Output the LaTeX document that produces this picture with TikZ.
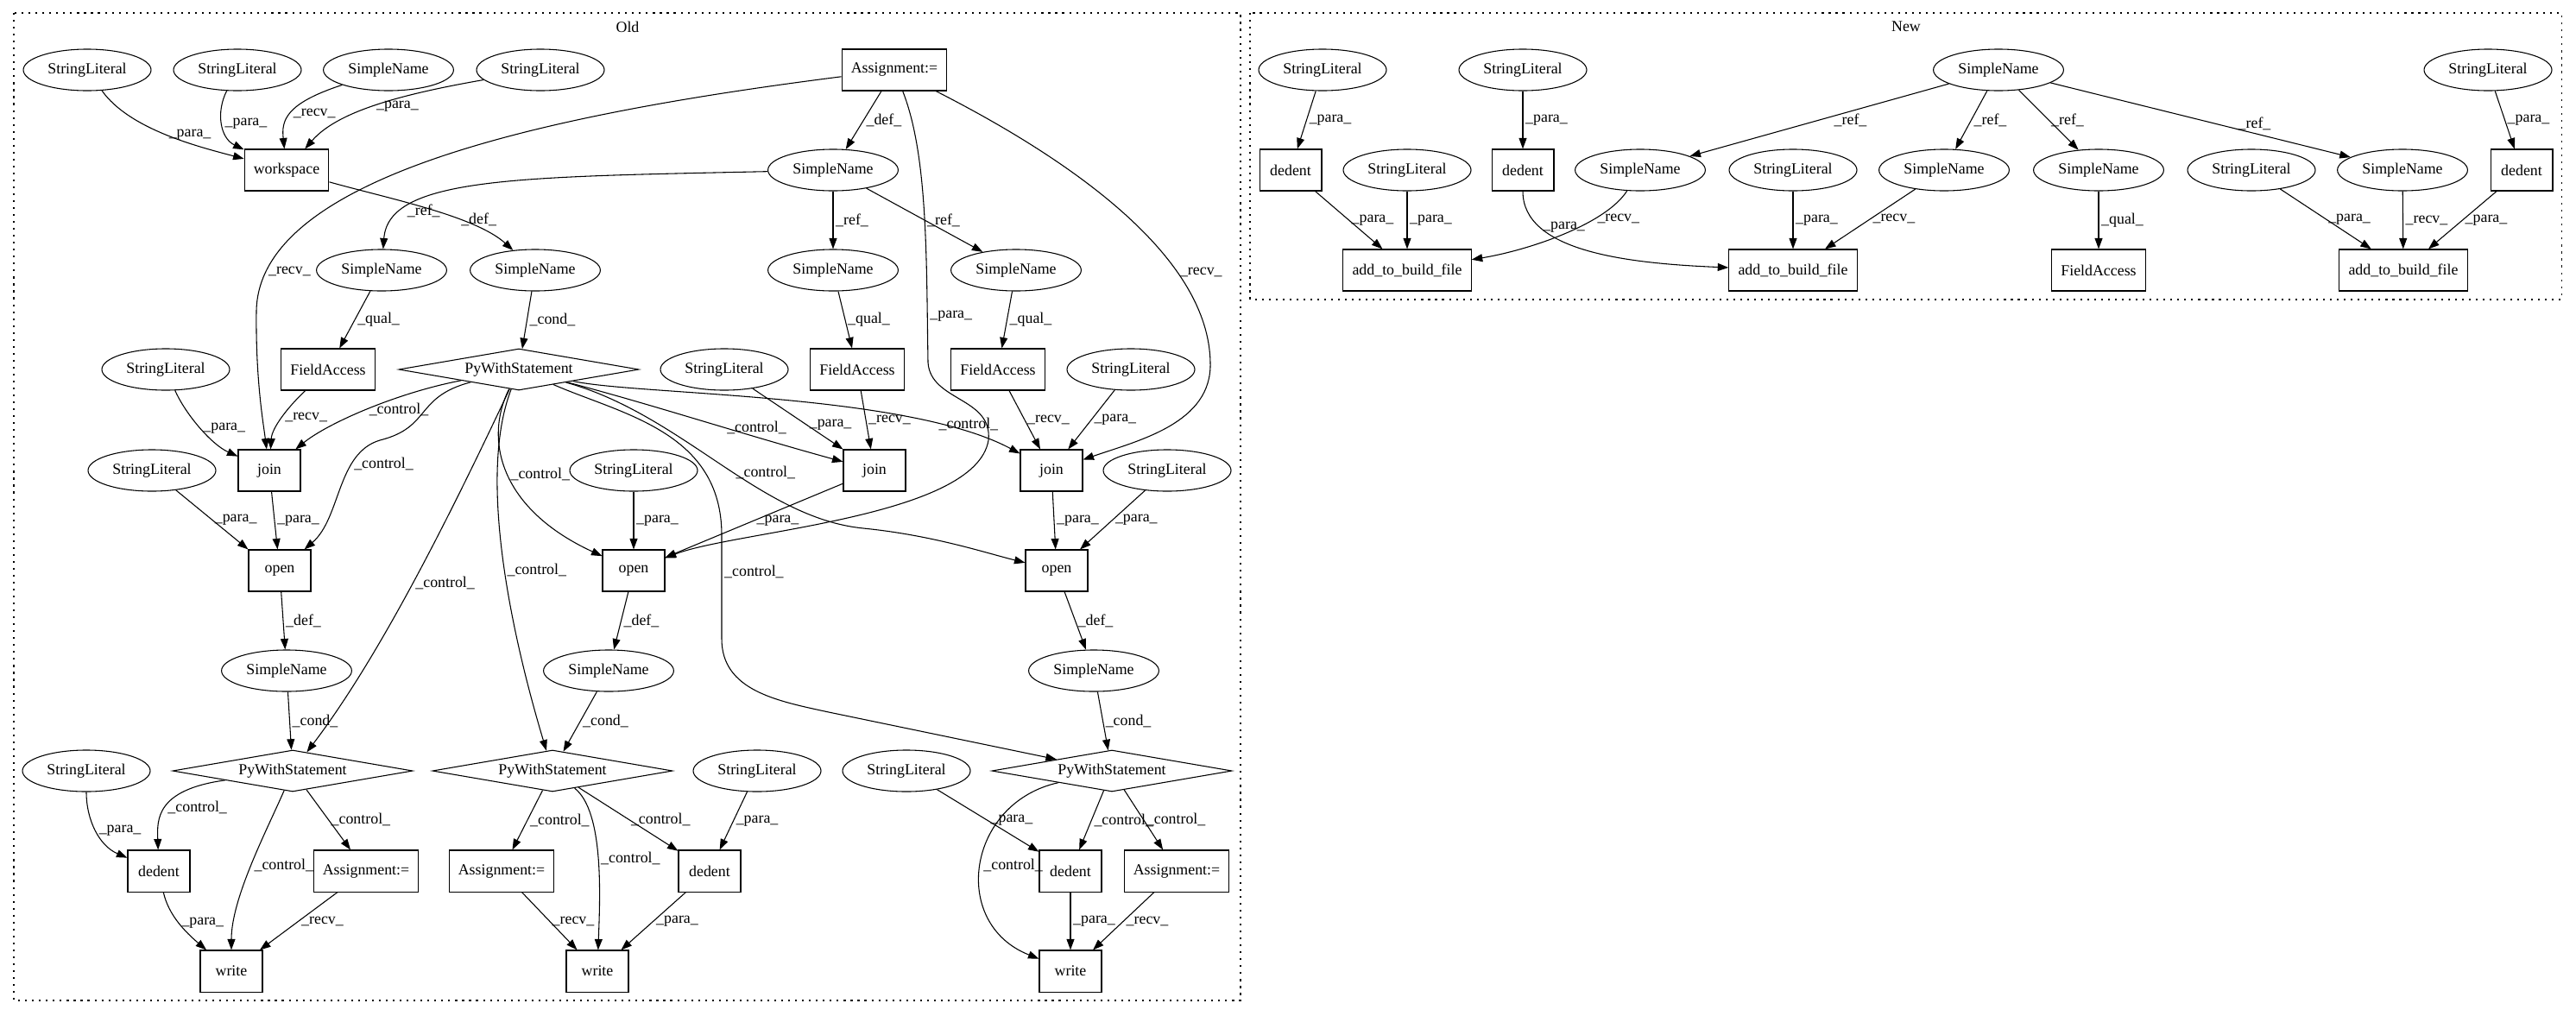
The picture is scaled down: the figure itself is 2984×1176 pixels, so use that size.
\documentclass[tikz,border=0pt]{standalone}
\usepackage{fontspec}
\setmainfont{Liberation Serif}
\usetikzlibrary{arrows.meta}
\usetikzlibrary{shapes}

\begin{document}
\begin{tikzpicture}[x=0.56pt, y=-0.56pt]
	\tikzstyle{txt}=[font=\fontsize{10}{12}\selectfont]
	\tikzstyle{ell}=[txt, shape=ellipse, draw, line width=0.6pt, minimum height=26.9pt, inner xsep=3.75pt, inner ysep=1pt]
	\tikzstyle{rbox}=[txt, shape=rectangle, draw, line width=0.6pt, minimum width=40.3pt, minimum height=26.9pt, inner xsep=6pt]
	\tikzstyle{dia}=[txt, shape=diamond, draw, line width=0.6pt, aspect=5.8, inner sep=0.5pt, minimum width=155.7pt, minimum height=26.9pt]
	\tikzstyle{lbl}=[txt, right, inner sep=1.5pt]
	\tikzstyle{link}=[-{Triangle[length=7pt,width=5pt]}, line width=0.6pt]
	\tikzstyle{clus}=[line width=0.6pt, dash pattern=on 1.2pt off 3.3pt]
	\useasboundingbox (0,0) rectangle (2984,1176);
	\draw[clus] (16,15) rectangle (1437,1159);
	\draw[clus] (1448,15) rectangle (2967,347);
	\node[txt] (told) at (727,31) {Old};
	\node[txt] (tnew) at (2208,31) {New};
	\node[ell] (sl1) at (101,81) {StringLiteral};
	\node[ell] (sl2) at (275,81) {StringLiteral};
	\node[ell] (sn0) at (450,81) {SimpleName};
	\node[ell] (sl3) at (626,81) {StringLiteral};
	\node[rbox] (asg) at (1036,81) {Assignment:=};
	\node[rbox] (ws) at (332,197) {workspace};
	\node[ell] (sndef) at (965,197) {SimpleName};
	\node[ell] (snr1) at (442,313) {SimpleName};
	\node[ell] (snw) at (620,313) {SimpleName};
	\node[ell] (snr2) at (965,313) {SimpleName};
	\node[ell] (snr3) at (1177,313) {SimpleName};
	\node[ell] (sl4) at (192,428) {StringLiteral};
	\node[rbox] (fa1) at (380,428) {FieldAccess};
	\node[dia] (pw0) at (601,428) {PyWithStatement};
	\node[ell] (sl5) at (839,428) {StringLiteral};
	\node[rbox] (fa2) at (993,428) {FieldAccess};
	\node[rbox] (fa3) at (1156,428) {FieldAccess};
	\node[ell] (sl6) at (1310,428) {StringLiteral};
	\node[ell] (sl7) at (176,545) {StringLiteral};
	\node[rbox] (join1) at (312,545) {join};
	\node[ell] (sl8) at (734,545) {StringLiteral};
	\node[rbox] (join2) at (1013,545) {join};
	\node[rbox] (join3) at (1218,545) {join};
	\node[ell] (sl9) at (1352,545) {StringLiteral};
	\node[rbox] (open1) at (324,661) {open};
	\node[rbox] (open2) at (734,661) {open};
	\node[rbox] (open3) at (1224,661) {open};
	\node[ell] (sno1) at (332,777) {SimpleName};
	\node[ell] (sno2) at (705,777) {SimpleName};
	\node[ell] (sno3) at (1267,777) {SimpleName};
	\node[ell] (sl10) at (100,893) {StringLiteral};
	\node[dia] (pw1) at (339,893) {PyWithStatement};
	\node[dia] (pw2) at (640,893) {PyWithStatement};
	\node[ell] (sl11) at (877,893) {StringLiteral};
	\node[ell] (sl12) at (1050,893) {StringLiteral};
	\node[dia] (pw3) at (1288,893) {PyWithStatement};
	\node[rbox] (ded1) at (184,1009) {dedent};
	\node[rbox] (asg1) at (424,1009) {Assignment:=};
	\node[rbox] (asg2) at (581,1009) {Assignment:=};
	\node[rbox] (ded2) at (822,1009) {dedent};
	\node[rbox] (ded3) at (1240,1009) {dedent};
	\node[rbox] (asg3) at (1363,1009) {Assignment:=};
	\node[rbox] (wr1) at (268,1125) {write};
	\node[rbox] (wr2) at (692,1125) {write};
	\node[rbox] (wr3) at (1240,1125) {write};
	\node[ell] (nsl1) at (1532,81) {StringLiteral};
	\node[ell] (nsl2) at (1764,81) {StringLiteral};
	\node[ell] (nsn0) at (2315,81) {SimpleName};
	\node[ell] (nsl3) at (2882,81) {StringLiteral};
	\node[rbox] (nded1) at (1495,197) {dedent};
	\node[ell] (nsl4) at (1630,197) {StringLiteral};
	\node[rbox] (nded2) at (1764,197) {dedent};
	\node[ell] (nsn1) at (1900,197) {SimpleName};
	\node[ell] (nsl5) at (2077,197) {StringLiteral};
	\node[ell] (nsn2) at (2252,197) {SimpleName};
	\node[ell] (nsn3) at (2431,197) {SimpleName};
	\node[ell] (nsl6) at (2608,197) {StringLiteral};
	\node[ell] (nsn4) at (2783,197) {SimpleName};
	\node[rbox] (nded3) at (2921,197) {dedent};
	\node[rbox] (add1) at (1630,313) {add\_to\_build\_file};
	\node[rbox] (add2) at (2077,313) {add\_to\_build\_file};
	\node[rbox] (nfa) at (2431,313) {FieldAccess};
	\node[rbox] (add3) at (2784,313) {add\_to\_build\_file};
	\draw[link] (sl1) .. controls (150,150) and (230,170) .. node[lbl]{\_para\_} (ws);
	\draw[link] (sl2) .. controls (250,130) and (255,160) .. node[lbl]{\_para\_} (ws);
	\draw[link] (sn0) .. controls (330,120) and (326,140) .. node[lbl]{\_recv\_} (ws);
	\draw[link] (sl3) .. controls (460,110) and (390,130) .. node[lbl]{\_para\_} (ws);
	\draw[link] (ws) .. controls (450,230) and (550,250) .. node[lbl,pos=.65]{\_def\_} (snw);
	\draw[link] (asg) -- node[lbl]{\_def\_} (sndef);
	\draw[link] (asg) .. controls (650,130) and (300,200) .. node[lbl,pos=.9]{\_recv\_} (297,360) .. controls (296,440) and (305,490) .. (join1);
	\draw[link] (asg) .. controls (1075,180) and (1073,300) .. node[lbl,pos=.85]{\_para\_} (1075,420) .. controls (1078,465) and (1150,460) .. (1145,510) .. controls (1130,600) and (850,615) .. (open2);
	\draw[link] (asg) .. controls (1250,190) and (1400,300) .. node[lbl,pos=.7]{\_recv\_} (1402,420) .. controls (1404,490) and (1320,510) .. (join3);
	\draw[link] (sndef) .. controls (600,205) and (450,205) .. node[lbl,pos=.78]{\_ref\_} (snr1);
	\draw[link] (sndef) -- node[lbl]{\_ref\_} (snr2);
	\draw[link] (sndef) -- node[lbl]{\_ref\_} (snr3);
	\draw[link] (snw) -- node[lbl]{\_cond\_} (pw0);
	\draw[link] (snr1) -- node[lbl]{\_qual\_} (fa1);
	\draw[link] (snr2) -- node[lbl]{\_qual\_} (fa2);
	\draw[link] (snr3) -- node[lbl]{\_qual\_} (fa3);
	\draw[link] (sl4) .. controls (215,480) and (245,515) .. node[lbl]{\_para\_} (join1);
	\draw[link] (fa1) .. controls (335,470) and (315,495) .. node[lbl]{\_recv\_} (join1);
	\draw[link] (pw0) .. controls (460,455) and (380,490) .. node[lbl]{\_control\_} (join1);
	\draw[link] (pw0) .. controls (480,460) and (500,495) .. (440,510) .. controls (390,525) and (395,600) .. node[lbl,pos=.3]{\_control\_} (open1);
	\draw[link] (sl7) -- node[lbl]{\_para\_} (open1.north west);
	\draw[link] (join1) -- node[lbl]{\_para\_} (open1);
	\draw[link] (open1) -- node[lbl]{\_def\_} (sno1);
	\draw[link] (pw0) .. controls (520,600) and (440,760) .. node[lbl]{\_control\_} (pw1);
	\draw[link] (pw0) .. controls (550,560) and (600,760) .. node[lbl]{\_control\_} (pw2);
	\draw[link] (pw0) .. controls (560,510) and (580,590) .. node[lbl]{\_control\_} (open2);
	\draw[link] (pw0) .. controls (760,470) and (850,500) .. node[lbl,pos=.6]{\_control\_} (join2);
	\draw[link] (pw0) .. controls (740,458) and (1050,455) .. node[lbl,pos=.8]{\_control\_} (join3);
	\draw[link] (pw0) .. controls (790,480) and (880,600) .. node[lbl,pos=.55]{\_control\_} (1000,612) .. controls (1080,620) and (1140,640) .. (open3);
	\draw[link] (pw0) .. controls (720,480) and (836,500) .. (836,620) -- node[lbl,pos=.35]{\_control\_} (836,740) .. controls (836,800) and (900,812) .. (960,825) -- (pw3);
	\draw[link] (sl5) -- node[lbl,pos=.6]{\_para\_} (join2.north west);
	\draw[link] (fa2) -- node[lbl]{\_recv\_} (join2);
	\draw[link] (join2) -- node[lbl]{\_para\_} (open2);
	\draw[link] (sl8) -- node[lbl]{\_para\_} (open2);
	\draw[link] (open2) -- node[lbl]{\_def\_} (sno2);
	\draw[link] (fa3) -- node[lbl]{\_recv\_} (join3);
	\draw[link] (sl6) -- node[lbl]{\_para\_} (join3);
	\draw[link] (join3) -- node[lbl]{\_para\_} (open3);
	\draw[link] (sl9) -- node[lbl]{\_para\_} (open3);
	\draw[link] (open3) -- node[lbl]{\_def\_} (sno3);
	\draw[link] (sno1) -- node[lbl]{\_cond\_} (pw1);
	\draw[link] (sno2) -- node[lbl]{\_cond\_} (pw2);
	\draw[link] (sno3) -- node[lbl]{\_cond\_} (pw3);
	\draw[link] (sl10) .. controls (100,950) and (115,980) .. node[lbl]{\_para\_} (ded1);
	\draw[link] (pw1) .. controls (180,915) and (182,950) .. node[lbl]{\_control\_} (ded1);
	\draw[link] (pw1) -- node[lbl]{\_control\_} (asg1);
	\draw[link] (pw1) .. controls (310,960) and (268,1040) .. node[lbl]{\_control\_} (wr1);
	\draw[link] (ded1) .. controls (195,1060) and (215,1080) .. node[lbl]{\_para\_} (wr1);
	\draw[link] (asg1) -- node[lbl]{\_recv\_} (wr1);
	\draw[link] (pw2) -- node[lbl]{\_control\_} (asg2);
	\draw[link] (pw2) .. controls (700,940) and (695,1040) .. node[lbl]{\_control\_} (wr2);
	\draw[link] (pw2) -- node[lbl]{\_control\_} (ded2);
	\draw[link] (sl11) -- node[lbl]{\_para\_} (ded2);
	\draw[link] (asg2) -- node[lbl]{\_recv\_} (wr2);
	\draw[link] (ded2) -- node[lbl]{\_para\_} (wr2);
	\draw[link] (pw3) .. controls (1120,930) and (1100,1070) .. node[lbl]{\_control\_} (wr3);
	\draw[link] (pw3) -- node[lbl]{\_control\_} (ded3);
	\draw[link] (pw3) -- node[lbl]{\_control\_} (asg3);
	\draw[link] (sl12) -- node[lbl]{\_para\_} (ded3);
	\draw[link] (ded3) -- node[lbl]{\_para\_} (wr3);
	\draw[link] (asg3) -- node[lbl]{\_recv\_} (wr3);
	\draw[link] (nsl1) -- node[lbl]{\_para\_} (nded1);
	\draw[link] (nsl2) -- node[lbl]{\_para\_} (nded2);
	\draw[link] (nsn0) -- node[lbl,pos=.38,below]{\_ref\_} (nsn1);
	\draw[link] (nsn0) -- node[lbl]{\_ref\_} (nsn2);
	\draw[link] (nsn0) -- node[lbl]{\_ref\_} (nsn3);
	\draw[link] (nsn0) -- node[lbl,pos=.68,above]{\_ref\_} (nsn4);
	\draw[link] (nsl3) -- node[lbl]{\_para\_} (nded3);
	\draw[link] (nded1) -- node[lbl]{\_para\_} (add1);
	\draw[link] (nsl4) -- node[lbl]{\_para\_} (add1);
	\draw[link] (nsn1) .. controls (1860,260) and (1770,290) .. node[lbl,pos=.3]{\_recv\_} (add1);
	\draw[link] (nded2) .. controls (1764,290) and (1880,305) .. node[lbl,pos=.25]{\_para\_} (add2);
	\draw[link] (nsl5) -- node[lbl]{\_para\_} (add2);
	\draw[link] (nsn2) -- node[lbl]{\_recv\_} (add2);
	\draw[link] (nsn3) -- node[lbl]{\_qual\_} (nfa);
	\draw[link] (nsl6) -- node[lbl]{\_para\_} (add3);
	\draw[link] (nsn4) -- node[lbl]{\_recv\_} (add3);
	\draw[link] (nded3) -- node[lbl]{\_para\_} (add3);
\end{tikzpicture}
\end{document}
